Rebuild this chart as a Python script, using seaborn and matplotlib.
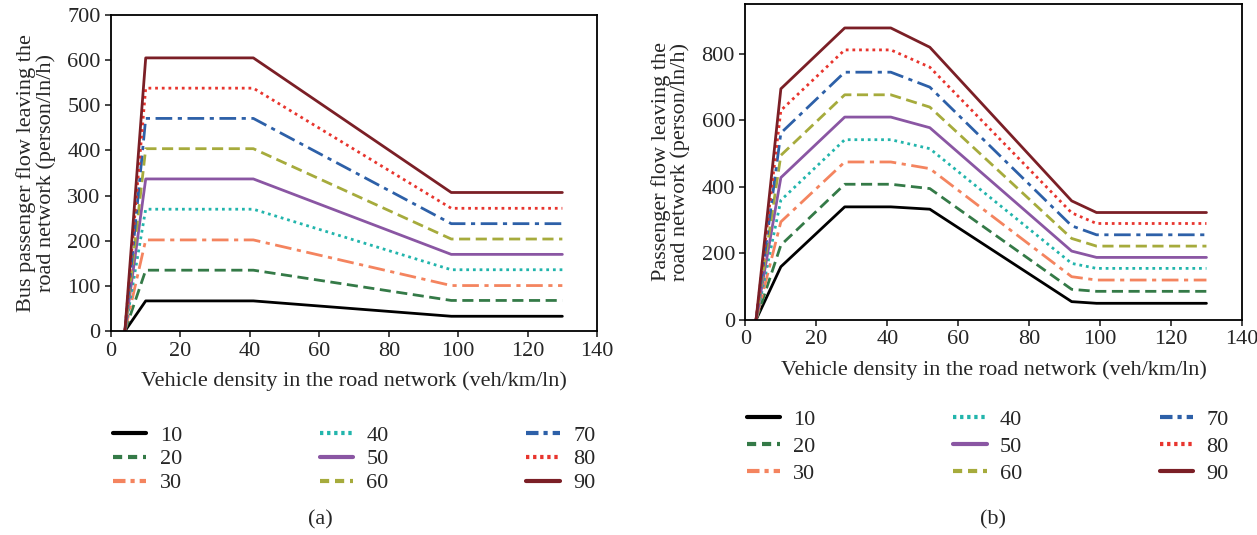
import numpy as np
import pandas as pd
import seaborn as sns
import matplotlib.pyplot as plt
from matplotlib.lines import Line2D

# series labels (bus load levels)
series = ['10', '20', '30', '40', '50', '60', '70', '80', '90']

# panel (a): bus passenger flow
x_a = [4, 10, 41, 98, 130]
vals_a = {
    '10': [0, 67, 67, 33, 33],
    '20': [0, 135, 135, 68, 68],
    '30': [0, 202, 202, 101, 101],
    '40': [0, 270, 270, 136, 136],
    '50': [0, 337, 337, 170, 170],
    '60': [0, 404, 404, 204, 204],
    '70': [0, 471, 471, 238, 238],
    '80': [0, 538, 538, 272, 272],
    '90': [0, 605, 605, 307, 307],
}

# panel (b): passenger flow
x_b = [3, 10, 28, 41, 52, 92, 99, 130]
vals_b = {
    '10': [0, 160, 340, 340, 333, 55, 50, 50],
    '20': [0, 225, 408, 408, 395, 92, 86, 86],
    '30': [0, 295, 475, 475, 455, 130, 120, 120],
    '40': [0, 360, 542, 542, 515, 170, 155, 155],
    '50': [0, 428, 610, 610, 578, 207, 188, 188],
    '60': [0, 495, 677, 677, 640, 245, 222, 222],
    '70': [0, 562, 745, 745, 700, 283, 256, 256],
    '80': [0, 630, 812, 812, 760, 322, 290, 290],
    '90': [0, 695, 878, 878, 820, 358, 323, 323],
}

colors = ['#000000', '#347a47', '#f4845f', '#22b5ac', '#8a56a3',
          '#a6ab3c', '#2d60a8', '#e8352e', '#7b1f26']
styles = ['-', (0, (4, 2)), (0, (6, 2, 1.5, 2)), (0, (1, 1.4)), '-',
          (0, (4, 2)), (0, (6, 2, 1.5, 2)), (0, (1, 1.4)), '-']
# shorter patterns for the thick legend handles
leg_styles = ['-', (0, (2.2, 1.4)), (0, (3, 1.2, 1, 1.2)), (0, (0.8, 0.9)), '-',
              (0, (2.2, 1.4)), (0, (3, 1.2, 1, 1.2)), (0, (0.8, 0.9)), '-']

sns.set_style('ticks')
plt.rcParams['font.family'] = ['Liberation Serif', 'DejaVu Serif']
FS = 16

fig = plt.figure(figsize=(12.57, 5.35), dpi=100)
ax1 = fig.add_axes([0.0883, 0.381, 0.3867, 0.591])
ax2 = fig.add_axes([0.593, 0.402, 0.395, 0.5905])


def draw(ax, xs, vals):
    for s, c, ls in zip(series, colors, styles):
        df = pd.DataFrame({'x': xs, 'y': vals[s]})
        sns.lineplot(data=df, x='x', y='y', ax=ax, color=c, linestyle=ls,
                     linewidth=2.0)
    ax.set_xlim(0, 140)
    ax.set_xticks(range(0, 141, 20))
    for sp in ax.spines.values():
        sp.set_linewidth(1.3)
        sp.set_color('black')
    ax.tick_params(direction='out', length=4, width=1.2, labelsize=FS)


draw(ax1, x_a, vals_a)
ax1.set_ylim(0, 700)
ax1.set_yticks(range(0, 701, 100))
ax1.set_ylabel('Bus passenger flow leaving the\nroad network (person/ln/h)',
               fontsize=FS, linespacing=1.0, labelpad=8)
ax1.set_xlabel('Vehicle density in the road network (veh/km/ln)',
               fontsize=FS, labelpad=8)

draw(ax2, x_b, vals_b)
ax2.set_ylim(0, 950)
ax2.set_yticks(range(0, 801, 200))
ax2.set_ylabel('Passenger flow leaving the\nroad network (person/ln/h)',
               fontsize=FS, linespacing=1.0, labelpad=8)
ax2.set_xlabel('Vehicle density in the road network (veh/km/ln)',
               fontsize=FS, labelpad=8)

handles = [Line2D([0], [0], color=c, linestyle=ls, linewidth=3.0)
           for c, ls in zip(colors, leg_styles)]

fig.legend(handles, series, ncol=3, loc='upper left',
           bbox_to_anchor=(0.074, 0.243), frameon=False, fontsize=FS,
           handlelength=1.5, handletextpad=0.6, columnspacing=6.2,
           labelspacing=0.15)
fig.legend(handles, series, ncol=3, loc='upper left',
           bbox_to_anchor=(0.578, 0.273), frameon=False, fontsize=FS,
           handlelength=1.5, handletextpad=0.6, columnspacing=6.2,
           labelspacing=0.3)

fig.text(0.255, 0.028, '(a)', ha='center', va='center', fontsize=FS)
fig.text(0.79, 0.028, '(b)', ha='center', va='center', fontsize=FS)

plt.savefig('out.png', dpi=100)
